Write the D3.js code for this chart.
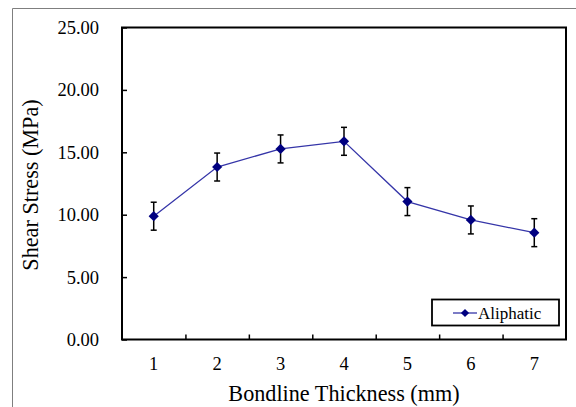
<!DOCTYPE html>
<html>
<head>
<meta charset="utf-8">
<script src="https://cdn.jsdelivr.net/npm/d3@7"></script>
<style>
  body { margin: 0; background: #fff; }
  svg text { font-family: "Liberation Serif", "Times New Roman", Times, "DejaVu Serif", serif; }
</style>
</head>
<body>
<div id="chart"></div>
<script>
// data
var thickness = ["1", "2", "3", "4", "5", "6", "7"];
var shear = [9.88, 13.82, 15.27, 15.88, 11.05, 9.58, 8.56];
var errBar = [1.12, 1.12, 1.12, 1.12, 1.12, 1.12, 1.12];
var yTicks = [0, 5, 10, 15, 20, 25];
var seriesName = "Aliphatic";

var W = 576, H = 407;
var plot = {left: 122, right: 566, top: 27.5, bottom: 339.5};

var svg = d3.select("#chart").append("svg")
   .attr("width", W).attr("height", H);

// outer frame (only top and left edges are visible)
svg.append("path")
   .attr("d", "M12.5," + H + "V8.5H" + W)
   .attr("fill", "none").attr("stroke", "#7f7f7f").attr("stroke-width", 1);

var x = d3.scaleBand().domain(thickness).range([plot.left, plot.right]);
var xEdge = d3.scaleLinear().domain([0, thickness.length]).range([plot.left, plot.right]);
var y = d3.scaleLinear().domain([0, 25]).range([plot.bottom, plot.top]);

// y axis
var gy = svg.append("g").attr("transform", "translate(" + plot.left + ",0)")
   .call(d3.axisLeft(y).tickValues(yTicks).tickSizeInner(-5).tickSizeOuter(0)
      .tickPadding(23).tickFormat(d3.format(".2f")));
gy.attr("font-family", null);
gy.select(".domain").remove();
gy.selectAll("line").attr("stroke", "#000").attr("stroke-width", 1.5);
gy.selectAll("text").attr("font-size", "18.5px").attr("fill", "#000");

// x axis labels
var gx = svg.append("g").attr("transform", "translate(0," + plot.bottom + ")")
   .call(d3.axisBottom(x).tickSize(0).tickPadding(17.5));
gx.attr("font-family", null);
gx.select(".domain").remove();
gx.selectAll("text").attr("font-size", "18.5px").attr("fill", "#000");

// x ticks between categories
var gxt = svg.append("g").attr("transform", "translate(0," + plot.bottom + ")")
   .call(d3.axisBottom(xEdge).tickValues(d3.range(1, thickness.length))
      .tickSizeInner(-5).tickSizeOuter(0).tickFormat(""));
gxt.select(".domain").remove();
gxt.selectAll("line").attr("stroke", "#000").attr("stroke-width", 1.5);

// plot box
svg.append("rect")
   .attr("x", plot.left).attr("y", plot.top)
   .attr("width", plot.right - plot.left).attr("height", plot.bottom - plot.top)
   .attr("fill", "none").attr("stroke", "#000").attr("stroke-width", 2);

var cx = function(d, i) { return x(thickness[i]) + x.bandwidth() / 2; };

// line
svg.append("path")
   .datum(shear)
   .attr("fill", "none").attr("stroke", "#3535a8").attr("stroke-width", 1.3)
   .attr("d", d3.line().x(cx).y(function(d) { return y(d); }));

// error bars
var eb = svg.append("g").attr("stroke", "#000").attr("stroke-width", 1.5);
shear.forEach(function(v, i) {
   var px = cx(v, i);
   var lo = y(v - errBar[i]), hi = y(v + errBar[i]);
   eb.append("line").attr("x1", px).attr("x2", px).attr("y1", lo).attr("y2", hi);
   eb.append("line").attr("x1", px - 3).attr("x2", px + 3).attr("y1", lo).attr("y2", lo);
   eb.append("line").attr("x1", px - 3).attr("x2", px + 3).attr("y1", hi).attr("y2", hi);
});

// markers
var diamond = d3.symbol(d3.symbolSquare, 52);
svg.selectAll(".pt").data(shear).enter()
   .append("path").attr("class", "pt")
   .attr("d", diamond)
   .attr("fill", "#000080")
   .attr("transform", function(d, i) { return "translate(" + cx(d, i) + "," + y(d) + ") rotate(45)"; });

// axis titles
svg.append("text")
   .attr("x", (plot.left + plot.right) / 2).attr("y", 401)
   .attr("text-anchor", "middle").attr("font-size", "22.2px")
   .text("Bondline Thickness (mm)");
svg.append("text")
   .attr("transform", "translate(38," + ((plot.top + plot.bottom) / 2 + 1.5) + ") rotate(-90)")
   .attr("text-anchor", "middle").attr("font-size", "22.2px")
   .text("Shear Stress (MPa)");

// legend
var lg = svg.append("g");
lg.append("rect")
   .attr("x", 432).attr("y", 299.5).attr("width", 127).attr("height", 26)
   .attr("fill", "#fff").attr("stroke", "#000").attr("stroke-width", 1.8);
lg.append("line")
   .attr("x1", 453).attr("x2", 477).attr("y1", 313).attr("y2", 313)
   .attr("stroke", "#3535a8").attr("stroke-width", 1.3);
lg.append("path")
   .attr("d", d3.symbol(d3.symbolSquare, 34))
   .attr("fill", "#000080")
   .attr("transform", "translate(465,313) rotate(45)");
lg.append("text")
   .attr("x", 478).attr("y", 319).attr("font-size", "17px")
   .text(seriesName);
</script>
</body>
</html>
